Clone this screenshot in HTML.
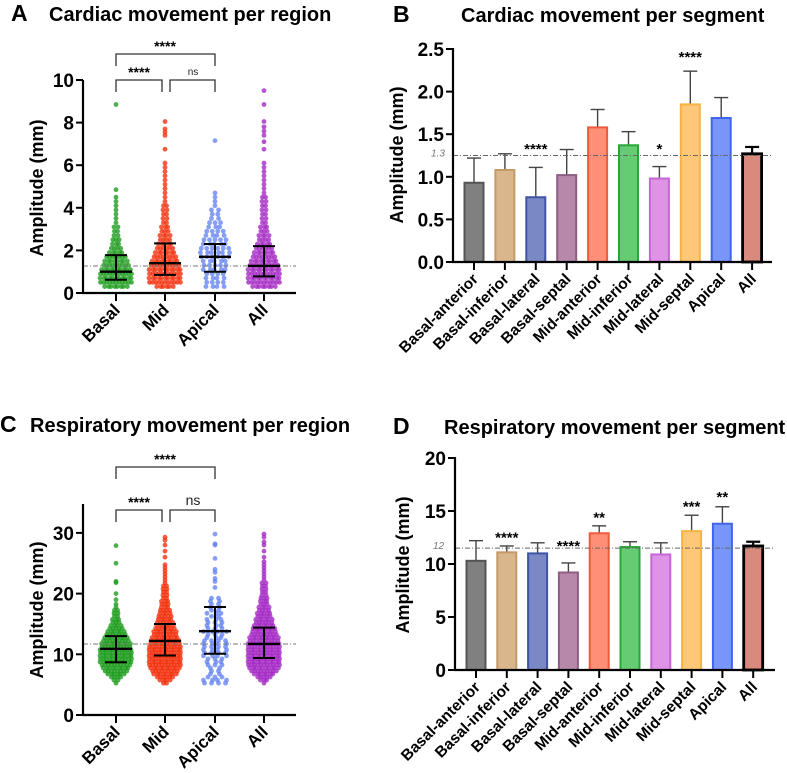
<!DOCTYPE html>
<html><head><meta charset="utf-8"><style>
body{margin:0;background:#fff}
svg{display:block;font-family:"Liberation Sans",Arial,sans-serif}
.t{font-weight:bold;fill:#000}
</style></head><body>
<svg id="fig" width="787" height="773" viewBox="0 0 787 773" xmlns="http://www.w3.org/2000/svg"></svg>
<script>
// ===== Panel A data (cardiac per region) =====
const regionCats = ["Basal","Mid","Apical","All"];
const aBinCountsBasal = [0,8,11,11,11,10,9,8,7,5,4,3,3,2,2,2,1,1,1,1,1,1,1];
const aBinCountsMid = [0,6,11,11,11,11,10,9,8,7,6,5,4,4,3,3,2,2,2,2,2,1,1,1,1,1,1,1,1,1,1];
const aBinCountsApical = [0,4,4,4,4,5,5,5,6,6,6,5,5,4,4,3,3,2,2,2,1,1,1,1];
const aBinCountsAll = [0,8,11,11,11,11,10,9,8,7,6,5,4,4,3,3,2,2,2,2,2,2,2,1,1,1,1,1,1,1,1];
const aOutliersBasal = [4.85,8.85];
const aOutliersMid = [6.75,7.4,7.55,7.7,8.05];
const aOutliersApical = [7.15];
const aOutliersAll = [6.75,7.1,7.4,7.6,7.8,8.05,8.85,9.5];
const aMedian = [1.0,1.4,1.7,1.27];
const aQ1 = [0.62,0.85,1.0,0.78];
const aQ3 = [1.78,2.33,2.3,2.2];
const aRef = 1.27;
const aTicks = [0,2,4,6,8,10];

// ===== Panel C data (respiratory per region) =====
const cBinCountsBasal = [1,2,4,6,8,9,10,11,11,11,11,11,10,10,9,8,7,6,5,4,3,3,2,2,2,1,1];
const cBinCountsMid = [2,4,6,8,9,10,11,11,11,11,11,11,11,10,10,9,8,8,7,6,6,5,5,4,4,3,3,3,2,2,2,2,2,1,1,1,1,1,1,1];
const cBinCountsApical = [4,4,3,2,2,2,3,3,3,4,4,4,4,4,4,3,3,4,3,3,3,3,2,3,2,2,2,2,2];
const cBinCountsAll = [1,3,5,7,9,10,11,11,11,11,11,11,11,11,10,10,9,8,8,7,6,6,5,5,4,4,3,3,3,2,2,2,2,2,1,1,1,1,1,1,1];
const cOutliersBasal = [19,20,21.8,22,25,27.9];
const cOutliersMid = [26,27,28,28.8,29.3];
const cOutliersApical = [21,22,22.5,23.5,24,25.8,28,28.2,29.8];
const cOutliersAll = [26,27,28,28.5,29.3,29.8];
const cMedian = [10.9,12.2,13.8,11.7];
const cQ1 = [8.7,9.8,10.1,9.4];
const cQ3 = [13.0,15.0,17.8,14.4];
const cRef = 11.7;
const cTicks = [0,10,20,30];

// ===== Panel B / D data (per segment bars) =====
const segCats = ["Basal-anterior","Basal-inferior","Basal-lateral","Basal-septal","Mid-anterior","Mid-inferior","Mid-lateral","Mid-septal","Apical","All"];
const bMeans = [0.93,1.08,0.76,1.02,1.58,1.37,0.98,1.85,1.69,1.27];
const bErrTop = [1.22,1.27,1.11,1.32,1.79,1.53,1.12,2.24,1.93,1.35];
const bStars = ["","","****","","","","*","****","",""];
const bStarY = [0,0,1.34,0,0,0,1.34,2.42,0,0];
const bTicks = [0,0.5,1.0,1.5,2.0,2.5];
const bRef = 1.25;
const dMeans = [10.3,11.1,11.0,9.2,12.9,11.6,10.9,13.1,13.8,11.7];
const dErrTop = [12.2,11.7,12.0,10.1,13.6,12.1,12.0,14.6,15.4,12.1];
const dStars = ["","****","","****","**","","","***","**",""];
const dStarY = [0,12.6,0,11.8,14.5,0,0,15.5,16.4,0];
const dTicks = [0,5,10,15,20];
const dRef = 11.5;

const fills = ["#808080","#d9b68c","#7a88c6","#b888ab","#ff9077","#66cc73","#de93e6","#ffc878","#7895fa","#d98a7c"];
const strokes = ["#555555","#c49a66","#3f54a3","#8e5e85","#f05a3c","#25a838","#c666d6","#f5b245","#4065ea","#000000"];

const svg = document.getElementById('fig');
const NS = "http://www.w3.org/2000/svg";
function mk(tag, attrs, parent){const e=document.createElementNS(NS,tag);for(const k in attrs)e.setAttribute(k,attrs[k]);(parent||svg).appendChild(e);return e;}
function txt(s,attrs,parent){const e=mk('text',attrs,parent);e.textContent=s;return e;}

function panelTitle(letter, lx, title, tx, y){
  const l=txt(letter,{x:lx,y:y,class:'t','font-size':23});
  
  
  const t=txt(title,{x:tx,y:y,class:'t','font-size':20});
  
  
}

function yAxis(g, x0, yFn, ticks, fmt, top, bottom, fs){
  const ax=mk('line',{x1:x0,x2:x0,y1:top,y2:bottom,stroke:'#000','stroke-width':2.2},g);
  
  
  ticks.forEach(v=>{
    const y=yFn(v);
    mk('line',{x1:x0-7,x2:x0,y1:y,y2:y,stroke:'#000','stroke-width':2},g);
    const t=txt(fmt(v),{x:x0-9,y:y+7,class:'t','font-size':fs,'text-anchor':'end'},g);
    
    
  });
}
function yTitle(g,x,y){
  const t=txt("Amplitude (mm)",{x:x,y:y,class:'t','font-size':18,'text-anchor':'middle',transform:`rotate(-90 ${x} ${y})`},g);
  
  
}
function xLabels(g, cats, xs, y0, fs){
  cats.forEach((c,i)=>{
    mk('line',{x1:xs[i],x2:xs[i],y1:y0,y2:y0+8,stroke:'#000','stroke-width':2},g);
    const x=xs[i]+5, y=y0+18;
    const t=txt(c,{x:x,y:y,class:'t','font-size':fs,'text-anchor':'end',transform:`rotate(-45 ${x} ${y})`},g);
    
    
  });
}

// ===== swarm panel =====
function swarmPanel(opt){
  const g=mk('g',{});
  
  
  const y=v=>opt.y0-(v-0)*opt.k;
  const xs=[116,165,215,264];
  const colors=["#1f9e1f","#f2320f","#5d7ff0","#a52bc4"];
  opt.bins.forEach((counts,gi)=>{
    const dg=mk('g',{fill:colors[gi],'fill-opacity':gi==2?0.75:0.8},g);
    
    
    const sp=opt.spacing[gi];
    counts.forEach((n,i)=>{
      const v=opt.binStart+(i+0.5)*opt.binW;
      const off=(i%2)?sp*0.5:0;
      for(let j=0;j<n;j++){
        let dx=(j-(n-1)/2)*sp;
        if(n>1) dx+= (j%2?off*0.3:-off*0.3);
        const c=mk('circle',{cx:xs[gi]+dx,cy:y(v),r:2.4},dg);
        
        
      }
    });
    opt.outliers[gi].forEach(v=>{
      const c=mk('circle',{cx:xs[gi],cy:y(v),r:2.4},dg);
      
      
    });
  });
  const rl=mk('line',{x1:83,x2:296,y1:y(opt.ref),y2:y(opt.ref),stroke:'#777','stroke-width':1,'stroke-dasharray':'5 2 1 2'},g);
  
  
  xs.forEach((x,i)=>{
    const eg=mk('g',{stroke:'#000','stroke-width':2},g);
    
    
    mk('line',{x1:x,x2:x,y1:y(opt.q1[i]),y2:y(opt.q3[i])},eg);
    mk('line',{x1:x-11,x2:x+11,y1:y(opt.q1[i]),y2:y(opt.q1[i])},eg);
    mk('line',{x1:x-11,x2:x+11,y1:y(opt.q3[i]),y2:y(opt.q3[i])},eg);
    mk('line',{x1:x-16,x2:x+16,y1:y(opt.med[i]),y2:y(opt.med[i]),'stroke-width':2.4},eg);
  });
  yAxis(g,83,y,opt.ticks,v=>String(v),opt.top,opt.y0+1,19);
  const xa=mk('line',{x1:82,x2:296,y1:opt.y0,y2:opt.y0,stroke:'#000','stroke-width':2.2},g);
  
  
  xLabels(g,regionCats,xs,opt.y0,17);
  yTitle(g,43,opt.titleY);
  const bg=mk('g',{stroke:'#333','stroke-width':1.3,fill:'none'},g);
  
  
  const b=opt.br;
  mk('polyline',{points:`116,${b.top+12} 116,${b.top} 215,${b.top} 215,${b.top+12}`},bg);
  mk('polyline',{points:`116,${b.low+12} 116,${b.low} 162,${b.low} 162,${b.low+12}`},bg);
  mk('polyline',{points:`170,${b.low+12} 170,${b.low} 215,${b.low} 215,${b.low+12}`},bg);
  const s1=txt("****",{x:165,y:b.top-3,class:'t','font-size':14,'text-anchor':'middle'},g);
  
  
  const s2=txt("****",{x:139,y:b.low-3,class:'t','font-size':14,'text-anchor':'middle'},g);
  
  
  const s3=txt("ns",{x:193,y:b.low-5,'font-size':opt.nsSize,'text-anchor':'middle',fill:'#222'},g);
  
  
}

// ===== bar panel =====
function barPanel(opt){
  const g=mk('g',{});
  
  
  const y=v=>opt.y0-v*opt.k;
  const xs=segCats.map((c,i)=>opt.x0+i*opt.step);
  const bw=19;
  opt.means.forEach((m,i)=>{
    const last=i==segCats.length-1;
    const eb=mk('line',{x1:xs[i],x2:xs[i],y1:y(m),y2:y(opt.err[i]),stroke:last?'#000':'#444','stroke-width':last?2.2:1.4},g);
    
    
    const cap=mk('line',{x1:xs[i]-7,x2:xs[i]+7,y1:y(opt.err[i]),y2:y(opt.err[i]),stroke:last?'#000':'#444','stroke-width':last?2.2:1.4},g);
    
    
    const sw=last?2.8:2;
    const r=mk('rect',{x:xs[i]-bw/2,y:y(m),width:bw,height:opt.y0-y(m),fill:fills[i],stroke:strokes[i],'stroke-width':sw},g);
    
    
    if(opt.stars[i]){
      const s=txt(opt.stars[i],{x:xs[i],y:y(opt.starY[i])+6,class:'t','font-size':15,'text-anchor':'middle'},g);
      
      
    }
  });
  const rl=mk('line',{x1:opt.ax,x2:opt.xEnd,y1:y(opt.ref),y2:y(opt.ref),stroke:'#666','stroke-width':1,'stroke-dasharray':'5 2 1 2'},g);
  
  
  const rt=txt(opt.refLabel,{x:opt.ax-22,y:y(opt.ref)+1,'font-size':10,'font-style':'italic',fill:'#777'},g);
  
  
  yAxis(g,opt.ax,y,opt.ticks,opt.fmt,opt.top,opt.y0+1,19);
  const xa=mk('line',{x1:opt.ax-1,x2:opt.xEnd,y1:opt.y0,y2:opt.y0,stroke:'#000','stroke-width':2.2},g);
  
  
  xLabels(g,segCats,xs,opt.y0,15.5);
  yTitle(g,opt.titleX,opt.titleY);
}

panelTitle("A",11,"Cardiac movement per region",49,21);
panelTitle("B",393,"Cardiac movement per segment",461,22);
panelTitle("C",0,"Respiratory movement per region",30,432);
panelTitle("D",393,"Respiratory movement per segment",444,434);

swarmPanel({name:'panel-a-chart',y0:293,k:21.3,top:80,ticks:aTicks,binStart:0,binW:0.2,
  bins:[aBinCountsBasal,aBinCountsMid,aBinCountsApical,aBinCountsAll],
  outliers:[aOutliersBasal,aOutliersMid,aOutliersApical,aOutliersAll],
  spacing:[3.1,3.1,5.5,3.1],med:aMedian,q1:aQ1,q3:aQ3,ref:aRef,titleY:188,
  br:{top:54,low:80},nsSize:10});
swarmPanel({name:'panel-c-chart',y0:715,k:6.07,top:504,ticks:cTicks,binStart:5,binW:0.5,
  bins:[cBinCountsBasal,cBinCountsMid,cBinCountsApical,cBinCountsAll],
  outliers:[cOutliersBasal,cOutliersMid,cOutliersApical,cOutliersAll],
  spacing:[3.1,3.1,7,3.1],med:cMedian,q1:cQ1,q3:cQ3,ref:cRef,titleY:610,
  br:{top:467,low:510},nsSize:14});
barPanel({name:'panel-b-chart',y0:262,k:85.2,top:48,ticks:bTicks,fmt:v=>v.toFixed(1),ax:453,xEnd:772,
  x0:474,step:30.9,means:bMeans,err:bErrTop,stars:bStars,starY:bStarY,ref:bRef,refLabel:"1.3",titleX:403,titleY:155});
barPanel({name:'panel-d-chart',y0:670,k:10.6,top:457,ticks:dTicks,fmt:v=>String(v),ax:455,xEnd:775,
  x0:476,step:30.8,means:dMeans,err:dErrTop,stars:dStars,starY:dStarY,ref:dRef,refLabel:"12",titleX:409,titleY:565});
</script>
</body></html>
